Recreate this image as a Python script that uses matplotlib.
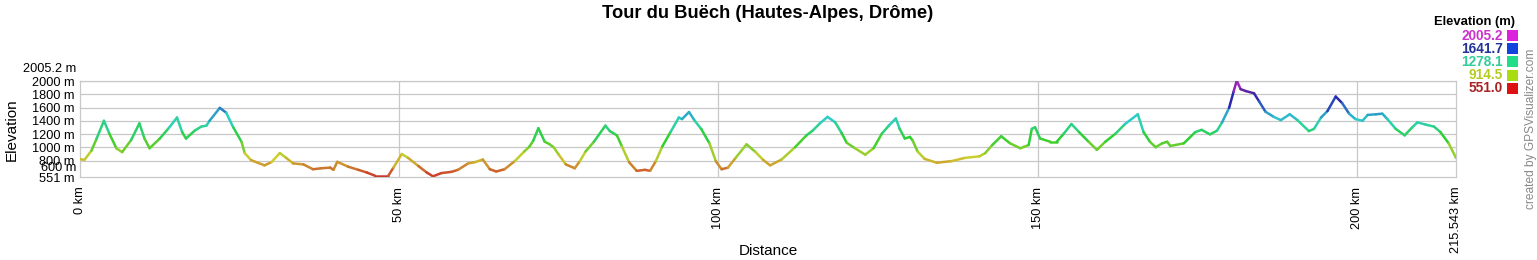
import numpy as np
import matplotlib
matplotlib.use('Agg')
import matplotlib.pyplot as plt
from matplotlib.collections import LineCollection
from matplotlib.colors import hsv_to_rgb, ListedColormap, Normalize
from matplotlib.patches import Rectangle

plt.rcParams['font.family'] = ['Liberation Sans', 'DejaVu Sans']

title = "Tour du Buëch (Hautes-Alpes, Drôme)"

distance_km = [
    0.0, 0.7, 1.8, 2.6, 3.75, 4.6, 5.7, 6.6, 8.0, 9.3, 10.1, 10.9, 12.5, 13.8, 15.2,
    16.0, 16.6, 18.0, 19.0, 19.8, 20.3, 21.9, 22.9, 24.0, 25.3, 25.8, 26.8, 28.9,
    30.0, 31.3, 32.3, 33.4, 35.0, 36.5, 37.8, 39.2, 39.7, 40.3, 42.0, 43.6, 44.9,
    46.2, 48.3, 49.1, 50.4, 51.4, 53.0, 54.3, 55.3, 56.6, 58.2, 59.2, 60.8, 61.9,
    63.1, 64.2, 65.2, 66.5, 68.1, 69.6, 70.4, 71.0, 71.8, 72.8, 73.5, 74.2, 75.0,
    76.1, 77.5, 78.3, 79.2, 80.5, 82.3, 83.0, 84.1, 84.9, 86.0, 87.2, 88.5, 89.3,
    90.2, 91.2, 92.5, 93.8, 94.3, 95.4, 96.3, 97.3, 98.6, 99.6, 100.5, 101.5,
    102.7, 104.4, 105.8, 107.0, 108.1, 109.9, 112.0, 113.8, 114.8, 115.9, 117.1,
    118.3, 119.3, 120.1, 121.4, 123.0, 124.3, 125.6, 126.7, 127.8, 128.4, 129.2,
    130.0, 130.4, 131.2, 132.3, 134.2, 136.5, 138.6, 140.9, 141.8, 142.9, 144.3,
    145.7, 147.3, 148.6, 149.1, 149.6, 150.4, 152.0, 153.0, 154.1, 155.3, 156.5,
    158.0, 159.3, 160.6, 162.2, 163.7, 165.7, 166.6, 167.6, 168.5, 169.5, 170.3,
    170.8, 172.9, 174.7, 175.7, 177.0, 178.1, 178.9, 180.0, 180.7, 181.2, 181.8,
    182.6, 183.9, 184.7, 185.7, 187.0, 188.1, 189.5, 190.7, 192.5, 193.3, 194.4,
    195.4, 196.7, 197.7, 198.8, 199.8, 200.9, 201.7, 203.0, 204.0, 204.8, 206.1,
    207.5, 208.7, 209.5, 210.8, 212.1, 213.1, 214.4, 215.543,
]
elevation_m = [
    820, 810, 950, 1130, 1400, 1205, 985, 927, 1107, 1361, 1132, 985, 1132, 1278, 1449,
    1229, 1132, 1254, 1312, 1327, 1400, 1595, 1522, 1302, 1083, 912, 805, 727,
    776, 912, 839, 756, 741, 668, 683, 693, 659, 780, 707, 659, 620,
    571, 571, 693, 898, 839, 717, 620, 561, 610, 629, 659, 756, 776,
    815, 668, 634, 668, 790, 937, 1010, 1100, 1288, 1083, 1049, 1000, 888,
    741, 683, 790, 937, 1083, 1327, 1244, 1180, 1010, 776, 644, 659, 644,
    790, 1010, 1229, 1449, 1425, 1532, 1400, 1278, 1059, 790, 668, 693,
    839, 1044, 930, 810, 727, 815, 1000, 1180, 1254, 1361, 1459,
    1376, 1215, 1068, 985, 888, 985, 1205, 1327, 1434, 1278, 1132,
    1156, 1107, 937, 825, 766, 790, 839, 863, 912, 1034, 1166,
    1059, 985, 1034, 1278, 1302, 1132, 1083, 1083, 1205, 1351, 1229,
    1083, 961, 1083, 1205, 1351, 1498, 1229, 1083, 1000, 1059, 1083,
    1020, 1059, 1229, 1263, 1195, 1250, 1376, 1595, 1839, 2005, 1878,
    1849, 1815, 1693, 1537, 1459, 1410, 1498, 1410, 1244, 1278, 1449,
    1546, 1766, 1668, 1507, 1425, 1400, 1488, 1498, 1507, 1425, 1278,
    1180, 1302, 1376, 1342, 1312, 1229, 1059, 839,
]

y_ticks = [551, 800, 1000, 1200, 1400, 1600, 1800, 2000]
y_extra_labels = [600, 2005.2]
x_ticks = [0, 50, 100, 150, 200, 215.543]
x_tick_labels = ['0 km', '50 km', '100 km', '150 km', '200 km', '215.543 km']
elev_min, elev_max = 551.0, 2005.2

legend_values = [2005.2, 1641.7, 1278.1, 914.5, 551.0]
legend_text_colors = ['#cc33cc', '#223399', '#33cc99', '#b4cc22', '#aa2222']
legend_box_colors = ['#dd22dd', '#1144dd', '#22dd88', '#aadd11', '#dd1111']

W, H = 1537, 260
fig = plt.figure(figsize=(W / 100, H / 100), dpi=100)

def fx(px):
    return px / W

def fy(py):
    return 1 - py / H

ax_l, ax_r, ax_t, ax_b = 80, 1456, 80.7, 177
ax = fig.add_axes([fx(ax_l), fy(ax_b), (ax_r - ax_l) / W, (ax_b - ax_t) / H])

# colour map: hue sweep red -> yellow -> green -> cyan -> blue -> magenta
hues = np.linspace(0, 300 / 360, 256)
sat = np.full(256, 0.78)
val = np.interp(hues, [0, 0.45, 0.62, 0.75, 0.83], [0.80, 0.82, 0.75, 0.62, 0.80])
rgb = hsv_to_rgb(np.stack([hues, sat, val], axis=1))
cmap = ListedColormap(rgb)
norm = Normalize(elev_min, elev_max)

d = np.asarray(distance_km)
e = np.asarray(elevation_m, dtype=float)
pts = np.column_stack([d, e])
segs = np.stack([pts[:-1], pts[1:]], axis=1)
lc = LineCollection(segs, cmap=cmap, norm=norm, linewidths=1.8,
                    capstyle='round', joinstyle='round', zorder=3)
lc.set_array((e[:-1] + e[1:]) / 2)
ax.add_collection(lc)

ax.set_xlim(0, 215.543)
ax.set_ylim(elev_min, elev_max)

grid_c = '#c8c8c8'
for yv in y_ticks[1:]:
    ax.axhline(yv, color=grid_c, lw=0.9, zorder=1)
for xv in x_ticks[1:-1]:
    ax.axvline(xv, color=grid_c, lw=0.9, zorder=1)
for s in ax.spines.values():
    s.set_color(grid_c)
    s.set_linewidth(0.9)

ax.set_yticks(y_ticks)
ax.set_yticklabels([f'{v} m' for v in y_ticks])
ax.set_xticks(x_ticks)
ax.set_xticklabels(x_tick_labels, rotation=90, va='top', ha='center')
ax.tick_params(axis='both', length=0, labelsize=9.2, colors='black')
ax.tick_params(axis='y', pad=4)
ax.tick_params(axis='x', pad=7)

# extra y labels (min/max annotations as drawn in the reference)
ax.annotate(f'{y_extra_labels[0]} m', xy=(0, elev_min), xycoords=('axes fraction', 'data'),
            xytext=(-4, 9), textcoords='offset pixels', ha='right', va='center', fontsize=9.2)
ax.annotate(f'{y_extra_labels[1]} m', xy=(0, elev_max), xycoords=('axes fraction', 'data'),
            xytext=(-4, 11.5), textcoords='offset pixels', ha='right', va='center', fontsize=9.2)

fig.text(fx(768), fy(14), title, ha='center', va='center', fontsize=13.2, fontweight='bold')
fig.text(fx(768), fy(251), 'Distance', ha='center', va='center', fontsize=11)
fig.text(fx(12), fy(130), 'Elevation', ha='center', va='center', fontsize=11, rotation=90)

# legend
fig.text(fx(1515), fy(22), 'Elevation (m)', ha='right', va='center', fontsize=9.4, fontweight='bold')
for i, (v, tc, bc) in enumerate(zip(legend_values, legend_text_colors, legend_box_colors)):
    yc = 35.5 + i * 13.2
    fig.text(fx(1503), fy(yc), f'{v:.1f}', ha='right', va='center', fontsize=9.8,
             fontweight='bold', color=tc)
    fig.patches.append(Rectangle((fx(1507), fy(yc + 5.5)), 10.5 / W, 11 / H,
                                 transform=fig.transFigure, facecolor=bc, edgecolor='none'))

fig.text(fx(1531), fy(129), 'created by GPSVisualizer.com', ha='center', va='center',
         rotation=90, fontsize=8.6, color='#888888')

fig.savefig('out.png', dpi=100, facecolor='white')
